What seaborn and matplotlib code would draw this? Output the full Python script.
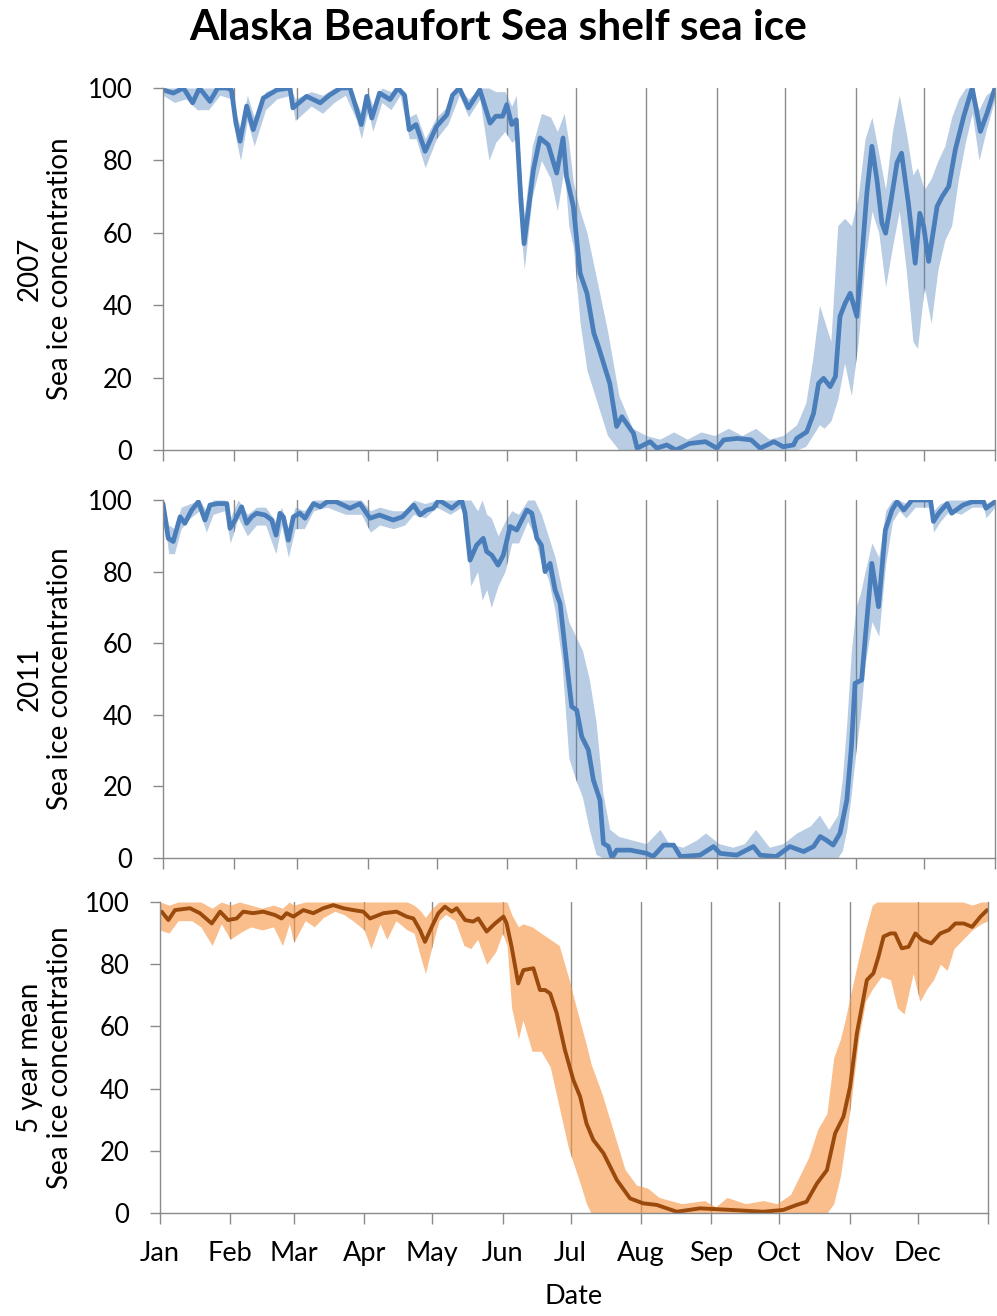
import matplotlib
matplotlib.use("Agg")
import matplotlib.pyplot as plt
import seaborn as sns
import numpy as np

# ---------------- data (day of year, sea ice concentration %) ----------------
month_starts = [0, 31, 59, 90, 120, 151, 181, 212, 243, 273, 304, 334, 365]
month_labels = ["Jan", "Feb", "Mar", "Apr", "May", "Jun", "Jul", "Aug", "Sep", "Oct", "Nov", "Dec", ""]
yticks = [0, 20, 40, 60, 80, 100]

# 2007 line
days_2007 = [0, 4.5, 9, 13, 16, 20.6, 24, 28, 30, 32,
             33.8, 36.7, 39.6, 44, 50, 55.7, 57, 63, 69, 73,
             78, 82, 85, 87, 89.4, 91.6, 95, 99.6, 103, 106,
             108, 111, 115, 120, 124.5, 127, 130, 134, 139, 143.5,
             146, 149, 150.8, 153, 155, 157, 158.4, 162.5, 165.4, 169,
             172.7, 175.5, 177, 180, 183, 186, 189, 191, 196, 199,
             201.3, 206.4, 208, 213.7, 216.7, 221, 225, 231, 238, 243,
             246, 252, 258, 262, 268, 272, 276.6, 278, 282.4, 285.4,
             287.6, 289.8, 292.7, 295, 297, 299.3, 301.5, 304.4, 306.6, 308.8,
             311, 313.2, 315.4, 317, 319, 322, 324, 327, 330, 332,
             333.7, 335.9, 339.6, 341.8, 344.7, 347.6, 351.3, 355, 358.6, 361.5,
             365]
conc_2007 = [99.5, 98.6, 100, 95.9, 100, 96.3, 100, 100, 99.5, 90.3,
             85.3, 95, 88.5, 97.2, 99.5, 100, 94.5, 97.7, 95.9, 98,
             100, 100, 94, 89.9, 97.7, 91.7, 98.6, 96.8, 100, 98,
             88.5, 89.9, 82.5, 89.4, 92.6, 98, 100, 94.5, 99.5, 90.3,
             92.2, 92.2, 95.4, 89.9, 91.2, 69, 57, 77.4, 86.2, 84.3,
             76.5, 86.2, 75.6, 67.3, 48.8, 43.3, 32.3, 28.6, 18.4, 6.5,
             9.2, 4.6, 0.5, 2.3, 0.5, 1.4, 0, 1.8, 2.3, 0.5,
             2.8, 3.2, 2.8, 0.5, 2.3, 0.9, 1.4, 3.2, 5, 10.1,
             18.4, 19.8, 17.5, 20.3, 36.9, 40.6, 43.3, 36.9, 53.5, 71,
             83.9, 74.7, 62.7, 59.9, 67.3, 79.3, 82, 68.2, 51.6, 65.4,
             61.8, 52.1, 67.3, 70, 72.8, 83, 92.2, 100, 88, 93,
             100]

# 2007 range (min / max)
band_days_2007 = [0, 5, 10, 15, 20, 25, 30, 32, 34, 37,
                  40, 45, 50, 56, 58, 65, 70, 75, 80, 85,
                  87, 90, 92, 96, 100, 104, 108, 111, 115, 120,
                  125, 130, 134, 139, 143, 146, 150, 153, 155, 157,
                  158.5, 162, 166, 170, 173, 176, 178, 180, 183, 186,
                  190, 195, 200, 206, 212, 218, 224, 230, 236, 242,
                  248, 254, 260, 266, 272, 278, 282, 285, 288, 290,
                  293, 296, 299, 302, 305, 308, 311, 314, 317, 320,
                  323, 326, 329, 331, 334, 337, 340, 343, 346, 349,
                  352, 355, 358, 361, 365]
low_2007 = [98, 96, 97, 94, 94, 98, 97, 86, 80, 91,
            84, 94, 97, 98, 91, 95, 93, 96, 98, 91,
            86, 94, 88, 96, 94, 98, 86, 86, 78, 86,
            90, 98, 92, 97, 80, 85, 88, 85, 86, 60,
            50, 70, 80, 75, 66, 78, 62, 56, 35, 22,
            14, 4, 0, 0, 0, 0, 0, 0, 0, 0,
            0, 0, 0, 0, 0, 0, 1, 4, 7, 6,
            8, 14, 24, 15, 30, 52, 66, 60, 45, 56,
            66, 50, 30, 28, 45, 35, 50, 58, 62, 75,
            85, 93, 80, 88, 97]
high_2007 = [100, 100, 100, 100, 100, 100, 100, 93, 89, 98,
             92, 99, 100, 100, 97, 99, 98, 100, 100, 96,
             93, 99, 95, 100, 99, 100, 92, 93, 86, 92,
             95, 100, 97, 100, 100, 99, 99, 95, 98, 76,
             65, 84, 93, 92, 88, 93, 85, 74, 66, 60,
             48, 33, 15, 6, 4, 3, 5, 3, 5, 4,
             6, 4, 6, 3, 4, 7, 13, 25, 40, 36,
             30, 62, 64, 62, 70, 86, 92, 82, 72, 88,
             98, 88, 76, 78, 72, 75, 80, 84, 92, 97,
             100, 100, 94, 98, 100]

# 2011 line
days_2011 = [0, 2.3, 4.5, 7.5, 9.6, 12.6, 15.5, 18.4, 20.6, 24,
             28, 29.4, 31.6, 34.5, 36.7, 38.9, 41, 44.8, 47.7, 49.6,
             51.3, 52.8, 55, 57.2, 60, 62.3, 66, 69, 72, 76,
             82, 86.4, 90.8, 95, 101, 105, 110, 112.8, 115.7, 118.6,
             121, 126.7, 131, 132.5, 134.7, 137.6, 140.5, 142, 144.2, 147,
             149.3, 152.3, 155.2, 159.6, 161.8, 164, 166, 167.6, 169.8, 172,
             174.2, 177, 179.3, 181.5, 183.7, 186.6, 188.8, 191.7, 193.2, 195.4,
             197, 199, 205, 212.2, 215, 219.6, 224, 227, 235.6, 241.5,
             244.4, 251.7, 259, 262, 269, 275, 281, 285.4, 288.3, 291,
             294, 297, 300, 302, 303.6, 306.5, 308, 311, 313.9, 316.9,
             319.8, 322, 325, 328.6, 336.7, 338, 340.3, 344, 346, 351,
             355, 360, 361, 365]
conc_2011 = [99, 89.3, 88.4, 95.3, 93.5, 97.2, 99.5, 94.4, 98.6, 99,
             99, 92.1, 94.4, 98.1, 93.5, 95.3, 96.3, 95.8, 94.4, 90.2,
             96.3, 95.3, 88.8, 95.3, 96.3, 94.9, 99, 98.1, 99.5, 99.5,
             97.7, 99, 94.9, 95.8, 94.4, 95.3, 98.6, 95.8, 97.2, 97.7,
             100, 97.7, 100, 96.3, 83.2, 87.4, 89.3, 85.6, 84.6, 81.8,
             84.6, 92.6, 91.6, 97.2, 96.3, 89.3, 87.4, 80, 82.3, 74.9,
             71.1, 55, 42.3, 41.3, 33.9, 30.2, 21.8, 16.2, 4.1, 3.2,
             0, 2.2, 2.2, 1.3, 0.4, 3.6, 3.6, 0.4, 0.8, 3.2,
             1.3, 0.8, 3.2, 0.8, 0.4, 3.2, 1.8, 3.2, 6, 5,
             3.6, 6.9, 16.2, 31, 48.8, 49.7, 60.9, 82.3, 70.2, 91.6,
             97.2, 99.5, 97.2, 100, 100, 94, 96.3, 99, 96.3, 98.6,
             99.5, 99.5, 97.7, 99.5]

band_days_2011 = [0, 2.5, 5, 8, 12, 16, 19, 22, 27, 29.5,
                  33, 37, 41, 45, 49.5, 52, 55, 58, 62, 66,
                  72, 80, 87, 91, 95, 101, 106, 110, 115, 120,
                  126, 131, 133, 135, 138, 140, 142, 144, 147, 150,
                  153, 156, 160, 163, 166, 169, 172, 175, 178, 181,
                  184, 187, 190, 193, 196, 200, 206, 212, 218, 222,
                  228, 234, 238, 244, 250, 255, 260, 266, 272, 278,
                  284, 288, 292, 296, 298, 300, 302, 304, 306, 308,
                  311, 314, 317, 320, 323, 326, 330, 337, 338, 341,
                  345, 350, 355, 360, 361, 365]
low_2011 = [97, 85, 85, 92, 95, 97, 91, 96, 97, 88,
            95, 90, 93, 93, 85, 93, 84, 92, 92, 97,
            98, 96, 96, 91, 93, 92, 93, 96, 95, 98,
            96, 98, 92, 76, 80, 72, 75, 70, 76, 80,
            88, 88, 94, 90, 82, 78, 69, 55, 28, 22,
            17, 8, 1, 0, 0, 0, 0, 0, 0, 0,
            0, 0, 0, 0, 0, 0, 0, 0, 0, 0,
            0, 0, 0, 0, 2, 8, 18, 30, 40, 54,
            66, 62, 82, 94, 97, 95, 98, 98, 91, 94,
            97, 96, 98, 98, 95, 98]
high_2011 = [100, 93, 92, 98, 99, 100, 97, 100, 100, 95,
             100, 96, 98, 98, 94, 98, 92, 98, 97, 100,
             100, 100, 100, 97, 98, 97, 97, 100, 99, 100,
             100, 100, 100, 100, 97, 100, 96, 95, 90, 94,
             97, 96, 100, 100, 96, 90, 84, 75, 66, 62,
             58, 50, 38, 18, 8, 6, 5, 4, 8, 4,
             3, 5, 7, 4, 3, 4, 8, 3, 4, 7,
             9, 12, 8, 12, 22, 38, 58, 70, 74, 80,
             88, 84, 97, 100, 100, 99, 100, 100, 97, 99,
             100, 100, 100, 100, 99, 100]

# 5 year mean line
days_mean = [0.7, 3.7, 6.6, 13.2, 17.6, 22.8, 26.5, 30, 33.8, 36.7,
             41, 45.5, 50.7, 53.6, 55.8, 58.8, 63.2, 67.6, 72, 76.4,
             80.8, 85.2, 89.6, 92.6, 98.5, 104.3, 108.7, 111.7, 114.6, 116.8,
             119.8, 122.7, 125.6, 128.6, 130.8, 134.5, 138, 140.3, 144, 147.7,
             151.4, 152.8, 155, 157.9, 160.2, 164.6, 167.5, 169.7, 172, 174.9,
             178.5, 182.2, 185.2, 188, 191, 195.5, 201.4, 207.2, 213, 219,
             227.8, 238, 251.3, 266, 274.8, 280.7, 285, 289.6, 294, 297.6,
             301.3, 304.2, 307.2, 311.6, 314.5, 316.7, 319, 322, 324, 327,
             330, 333, 336, 340, 344, 347.7, 350.6, 354.3, 358, 361.7,
             364.6]
conc_mean = [96.9, 94.2, 97.4, 98, 96.4, 93.1, 96.9, 94.2, 94.7, 96.9,
             96.4, 96.9, 95.8, 94.7, 96.4, 95.3, 97.4, 96.4, 98, 99,
             98, 97.4, 96.9, 94.7, 96.4, 96.9, 95.3, 94.7, 91, 87.2,
             92, 96.4, 98.5, 96.9, 98, 94.2, 93.7, 94.7, 90.5, 93.1,
             95.3, 93.1, 85.6, 73.8, 78.1, 78.7, 71.7, 71.7, 70.6, 64.2,
             52.4, 42.8, 37.4, 28.8, 23.5, 19.2, 10.6, 4.7, 3.1, 2.6,
             0.4, 1.5, 1, 0.4, 1, 2.6, 3.6, 9.5, 13.8, 25.6,
             31, 40.6, 57.8, 74.9, 77.1, 82.4, 88.9, 89.9, 89.9, 85.1,
             85.6, 89.9, 87.8, 86.7, 89.9, 91, 93.1, 93.1, 92, 95.3,
             97.4]

band_days_mean = [0, 4, 8, 14, 18, 23, 27, 31, 35, 40,
                  45, 50, 54, 57, 59, 64, 68, 72, 77, 81,
                  85, 90, 93, 97, 100, 104, 109, 112, 115, 117,
                  120, 123, 126, 130, 134, 137, 140, 144, 148, 151,
                  153, 155, 158, 160, 164, 168, 172, 176, 180, 185,
                  188, 190, 195, 200, 205, 210, 215, 220, 230, 240,
                  245, 250, 258, 266, 272, 278, 282, 286, 290, 294,
                  297, 300, 302, 305, 308, 311, 314, 316, 318, 322,
                  325, 328, 332, 335, 338, 341, 344, 347, 350, 354,
                  358, 362, 365]
low_mean = [91, 90, 94, 94, 92, 86, 93, 88, 90, 92,
            91, 92, 86, 93, 87, 94, 92, 95, 97, 96,
            94, 91, 85, 93, 88, 94, 91, 90, 82, 77,
            86, 94, 96, 94, 86, 85, 88, 80, 84, 90,
            86, 66, 56, 62, 52, 52, 47, 34, 21, 10,
            3, 0, 0, 0, 0, 0, 0, 0, 0, 0,
            0, 0, 0, 0, 0, 0, 0, 0, 0, 0,
            3, 12, 22, 38, 56, 68, 72, 74, 76, 75,
            66, 64, 77, 68, 72, 75, 80, 78, 85, 88,
            91, 93, 94]
high_mean = [100, 99, 100, 100, 100, 98, 100, 99, 100, 99,
             98, 99, 98, 100, 99, 100, 100, 100, 100, 100,
             100, 100, 100, 100, 100, 100, 100, 99, 97, 95,
             98, 100, 100, 100, 100, 100, 100, 100, 100, 100,
             100, 96, 92, 93, 92, 90, 88, 86, 76, 62,
             54, 48, 38, 26, 14, 9, 8, 5, 3, 4,
             2, 5, 3, 4, 3, 6, 12, 18, 27, 32,
             50, 56, 62, 72, 82, 91, 99, 100, 100, 100,
             100, 100, 100, 100, 100, 100, 100, 100, 100, 100,
             99, 100, 100]

panel_labels = ["2007\nSea ice concentration", "2011\nSea ice concentration",
                "5 year mean\nSea ice concentration"]

# ---------------- styling ----------------
sns.set_theme(style="white")
plt.rcParams["font.family"] = ["Lato", "DejaVu Sans"]
plt.rcParams["text.color"] = "black"
plt.rcParams["xtick.labelcolor"] = "black"
plt.rcParams["ytick.labelcolor"] = "black"

W, H = 997, 1316
fig = plt.figure(figsize=(W / 100, H / 100), dpi=100)
fig.patch.set_facecolor("white")

rects = [(163, 88, 995, 450), (163, 500, 995, 858), (160, 902, 988, 1213)]
panels = [
    (days_2007, conc_2007, band_days_2007, low_2007, high_2007, "#4a7ebb", "#4f81bd", 0.40, 3.4),
    (days_2011, conc_2011, band_days_2011, low_2011, high_2011, "#4a7ebb", "#4f81bd", 0.40, 3.4),
    (days_mean, conc_mean, band_days_mean, low_mean, high_mean, "#9a4a0c", "#f79646", 0.62, 2.8),
]
grey = "#8a8a8a"

for i, ((x0, y0, x1, y1), (d, v, bd, lo, hi, lc, bc, ba, lw)) in enumerate(zip(rects, panels)):
    ax = fig.add_axes([x0 / W, 1 - y1 / H, (x1 - x0) / W, (y1 - y0) / H])
    ax.set_facecolor("white")
    # monthly grid lines (hidden below the range, as in a stacked-area chart)
    for m in month_starts[1:-1]:
        ax.axvline(m, color=grey, lw=1.0, zorder=0.5)
    ax.fill_between(bd, 0, lo, color="white", lw=0, zorder=1)
    ax.fill_between(bd, lo, hi, color=bc, alpha=ba, lw=0, zorder=2)
    sns.lineplot(x=d, y=v, ax=ax, color=lc, linewidth=lw, estimator=None,
                 sort=False, zorder=3)
    ax.set_xlim(0, 365)
    ax.set_ylim(0, 100)
    ax.set_xlabel("")
    ax.set_ylabel("")
    ax.set_xticks(month_starts)
    if i == 2:
        ax.set_xticklabels(month_labels)
    else:
        ax.set_xticklabels([])
    ax.set_yticks(yticks)
    ax.set_yticklabels([str(t) for t in yticks])
    ax.tick_params(axis="x", direction="out", length=8, width=1, color=grey,
                   labelsize=19.5, pad=12, bottom=True, labelcolor="black")
    ax.tick_params(axis="y", direction="out", length=7, width=1, color=grey,
                   labelsize=18.5, pad=15, left=True, labelcolor="black")
    for s in ["left", "bottom", "right"]:
        ax.spines[s].set_visible(True)
        ax.spines[s].set_color(grey)
        ax.spines[s].set_linewidth(1.0)
        ax.spines[s].set_zorder(4)
    ax.spines["top"].set_visible(False)
    cy = 1 - ((y0 + y1) / 2) / H
    fig.text(45 / W, cy, panel_labels[i], rotation=90, ha="center", va="center",
             multialignment="center", fontsize=20, linespacing=1.2, color="black")

fig.text(498 / W, 1 - 28 / H, "Alaska Beaufort Sea shelf sea ice", ha="center",
         va="center", fontsize=30.5, fontweight="bold", color="black")
fig.text(574 / W, 1 - 1297 / H, "Date", ha="center", va="center", fontsize=19.5,
         color="black")

fig.savefig("out.png", dpi=100, facecolor="white")
